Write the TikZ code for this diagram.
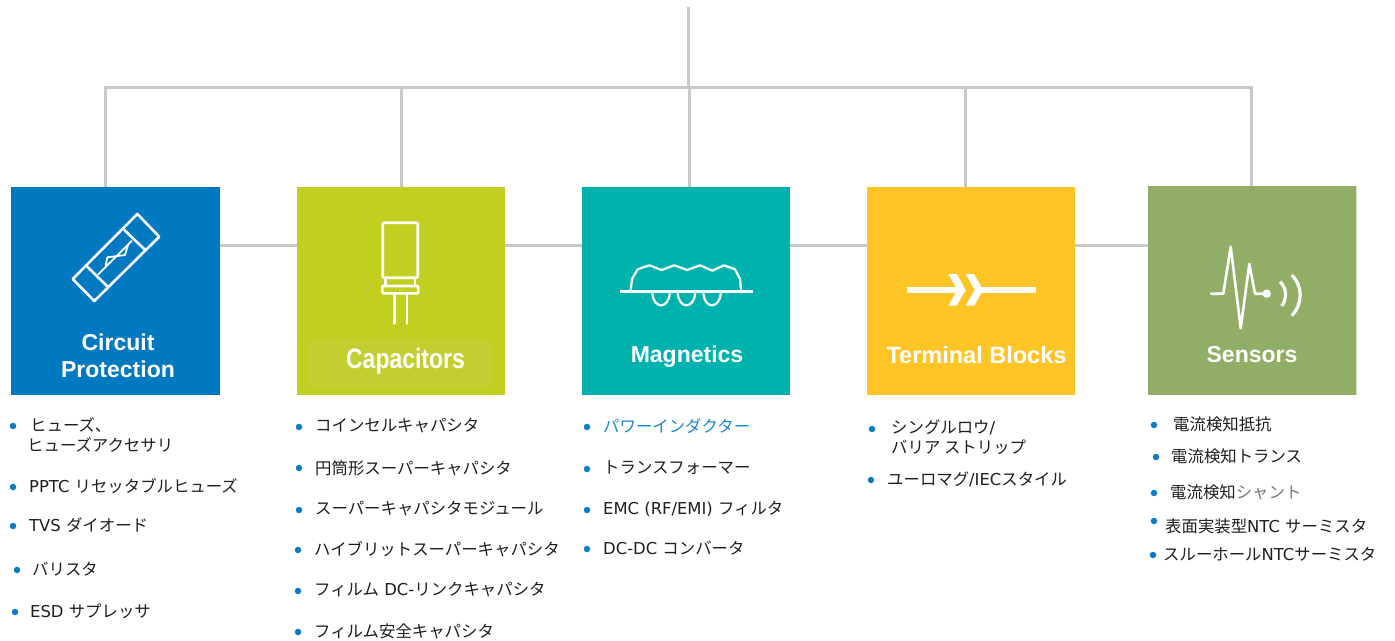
\documentclass[tikz,border=0pt]{standalone}
\usepackage{fontspec}
\setmainfont{DejaVu Sans}
\newfontfamily\jpfont{Noto Sans CJK JP}
\newfontfamily\titlefont{Liberation Sans}
\newfontfamily\narrowfont[FakeStretch=0.82]{Liberation Sans}
\newcommand{\ja}[1]{{\jpfont #1}}

\definecolor{linegray}{HTML}{C8C8C8}
\definecolor{fuseblue}{HTML}{0079C1}
\definecolor{caplime}{HTML}{C1CF21}
\definecolor{capband}{HTML}{C3CF30}
\definecolor{magteal}{HTML}{00B2AE}
\definecolor{termyellow}{HTML}{FFC425}
\definecolor{sensgreen}{HTML}{92AE66}
\definecolor{sensedge}{HTML}{D5E0C4}
\definecolor{dotblue}{HTML}{0A7BC4}
\definecolor{linkblue}{HTML}{1B87CC}
\definecolor{itemgray}{HTML}{777777}
\definecolor{itemblack}{HTML}{1E1E1E}

\tikzset{
    link/.style={linegray, line width=3pt},
    tile/.style={anchor=north west, inner sep=0pt, minimum width=208pt, minimum height=208pt},
    title/.style={text=white, align=center, inner sep=0pt, font=\titlefont\fontsize{23}{27}\selectfont\bfseries},
    icon/.style={white, line width=2.6pt, line join=round, line cap=round},
    dot/.style={circle, fill=dotblue, inner sep=0pt, minimum size=6.5pt},
    item/.style={anchor=west, align=left, inner sep=0pt, text=itemblack, font=\fontsize{16.4}{20}\selectfont}
}

\begin{document}
\begin{tikzpicture}[x=1pt, y=-1pt]

    % Determines the boundries
    \path[use as bounding box] (0,0) rectangle (1395,640);

    % Tiles
    \node[tile, fill=fuseblue, minimum width=209pt] (circuit) at (11,187) {};
    \node[tile, fill=caplime] (caps) at (297,187) {};
    \node[tile, fill=magteal] (magnet) at (582,187) {};
    \node[tile, fill=termyellow] (terminal) at (867,187) {};
    \node[tile, fill=sensgreen, minimum height=209pt] (sensor) at (1148,186) {};
    \fill[sensedge] (1356,186) rectangle (1357,395);

    % Rail coordinates
    \coordinate (top) at (688,7);
    \coordinate (midY) at (0,245);
    \coordinate (railA) at (105,87.3);
    \coordinate (railB) at (401.5,87.3);
    \coordinate (railC) at (689,87.3);
    \coordinate (railD) at (965.5,87.3);
    \coordinate (railE) at (1251.5,87.3);

    % Node to rail
    \draw[link] (top) -- (top |- railA);
    \draw[link, line cap=rect] (railA) -- (railE);
    \foreach \r/\b in {railA/circuit, railB/caps, railC/magnet, railD/terminal, railE/sensor}{
        \draw[link] (\r) -- (\r |- \b.north);
    }

    % Links between the tiles
    \foreach \a/\b in {circuit/caps, caps/magnet, magnet/terminal, terminal/sensor}{
        \draw[link] (\a.east |- midY) -- (\b.west |- midY);
    }

    % Titles
    \fill[capband] (307,340) rectangle (493,388);
    \node[title] (tCircuit) at (118,355.5) {Circuit\\Protection};
    \node[title, font=\narrowfont\fontsize{28}{30}\selectfont\bfseries] (tCaps) at (405.5,361) {Capacitors};
    \node[title] (tMagnet) at (687,357) {Magnetics};
    \node[title, font=\titlefont\fontsize{23.5}{27}\selectfont\bfseries] (tTerminal) at (976.5,355) {Terminal Blocks};
    \node[title] (tSensor) at (1252,355) {Sensors};

    % Fuse
    \draw[icon] (137.3,214) -- (159.3,236.7) -- (94.3,301) -- (72.7,279) -- cycle;
    \draw[icon] (124.3,230) -- (145.3,250)
                (87.3,266.7) -- (107.7,286.7);
    \draw[icon, line width=1.8pt] (131.7,241) -- (98.3,274.3)
                (128,245) -- (125,255) -- (107.3,257.3) -- (105.5,267);

    % Capacitor
    \draw[icon, rounded corners=1pt] (382.7,222.7) rectangle (417.7,277.7);
    \draw[icon, rounded corners=1pt] (382.3,286) rectangle (418.3,293.3);
    \draw[icon] (385.5,278) -- (385.5,286)
                (415,278) -- (415,286)
                (394.3,293.3) -- (394.3,323.5)
                (407,293.3) -- (407,323.5);

    % Coil
    \draw[icon, line cap=butt] (620,291.7) -- (752.7,291.7);
    \draw[icon, line width=2.2pt] (630.7,290) -- (632,279) -- (637.7,269.3) -- (649.3,265.3) -- (661.7,270)
        -- (674.3,265.3) -- (687.3,270) -- (700,265.3) -- (712.3,270.7) -- (724,265.3) -- (735,269.3)
        -- (740,279) -- (741,290);
    \foreach \l in {652.3, 677.7, 703.3}{
        \draw[icon, line width=2.2pt] (\l,292.7) .. controls (\l+1,309.5) and (\l+16.5,309.5) .. (\l+17.5,292.7);
    }

    % Terminal
    \draw[icon, line width=5.6pt, line cap=butt] (906.7,290) -- (956.7,290)
                                                 (978.3,290) -- (1035.7,290);
    \foreach \d in {0,17.4}{
        \fill[white] (948.3+\d,274) -- (956.7+\d,274) -- (965.7+\d,290) -- (956.7+\d,305.7)
                     -- (948.3+\d,305.7) -- (957.3+\d,290) -- cycle;
    }

    % Pulse
    \draw[icon] (1211,293.7) -- (1223.3,293.7) -- (1230.7,246.7) -- (1240.7,328.3) -- (1249.3,264) -- (1255,293.7) -- (1266.7,293.7);
    \fill[white] (1266.7,293.7) circle (4.2pt);
    \draw[icon, line width=3.2pt, line cap=butt] (1280,281.7) .. controls (1287,288) and (1287,299) .. (1281.7,306);
    \draw[icon, line width=3.2pt, line cap=butt] (1291.7,275) .. controls (1303,286) and (1303,304) .. (1291.7,315.7);

    % Lists, bullet x / bullet y / text x / text y / text
    \foreach \bx/\by/\tx/\ty/\txt [count=\n] in {
        13/426/27/435/{\hspace*{3pt}\ja{ヒューズ、}\\\ja{ヒューズアクセサリ}},
        13/487/29/486/{PPTC \ja{リセッタブルヒューズ}},
        13/526/29/525/{TVS \ja{ダイオード}},
        17/570/32/569/{\ja{バリスタ}},
        15/612/30/611/{ESD \ja{サプレッサ}},
        299/427/315/426/{\ja{コインセルキャパシタ}},
        299/468/315/468/{\ja{円筒形スーパーキャパシタ}},
        299/510/315/509/{\ja{スーパーキャパシタモジュール}},
        298/550/314/549/{\ja{ハイブリットスーパーキャパシタ}},
        298/591/314/590/{\ja{フィルム} DC-\ja{リンクキャパシタ}},
        298/632/314/631/{\ja{フィルム安全キャパシタ}},
        587/427/603/426/{\textcolor{linkblue}{\ja{パワーインダクター}}},
        587/469/603/468/{\ja{トランスフォーマー}},
        587/510/603/509/{EMC (RF/EMI) \ja{フィルタ}},
        587/549/603/548/{DC-DC \ja{コンバータ}},
        872/429/891/437/{\ja{シングルロウ}/\\\ja{バリア ストリップ}},
        871/480/887/479/{\ja{ユーロマグ}/IEC\ja{スタイル}},
        1154/425/1173/424/{\ja{電流検知抵抗}},
        1156/457/1171/456/{\ja{電流検知トランス}},
        1154/493/1170/492/{\ja{電流検知}\textcolor{itemgray}{\ja{シャント}}},
        1154/521/1165/526/{\ja{表面実装型}NTC \ja{サーミスタ}},
        1153/555/1163/554/{\ja{スルーホール}NTC\ja{サーミスタ}}}{
        \node[dot] (dot\n) at (\bx,\by) {};
        \node[item] (item\n) at (\tx,\ty) {\txt};
    }

\end{tikzpicture}
\end{document}
